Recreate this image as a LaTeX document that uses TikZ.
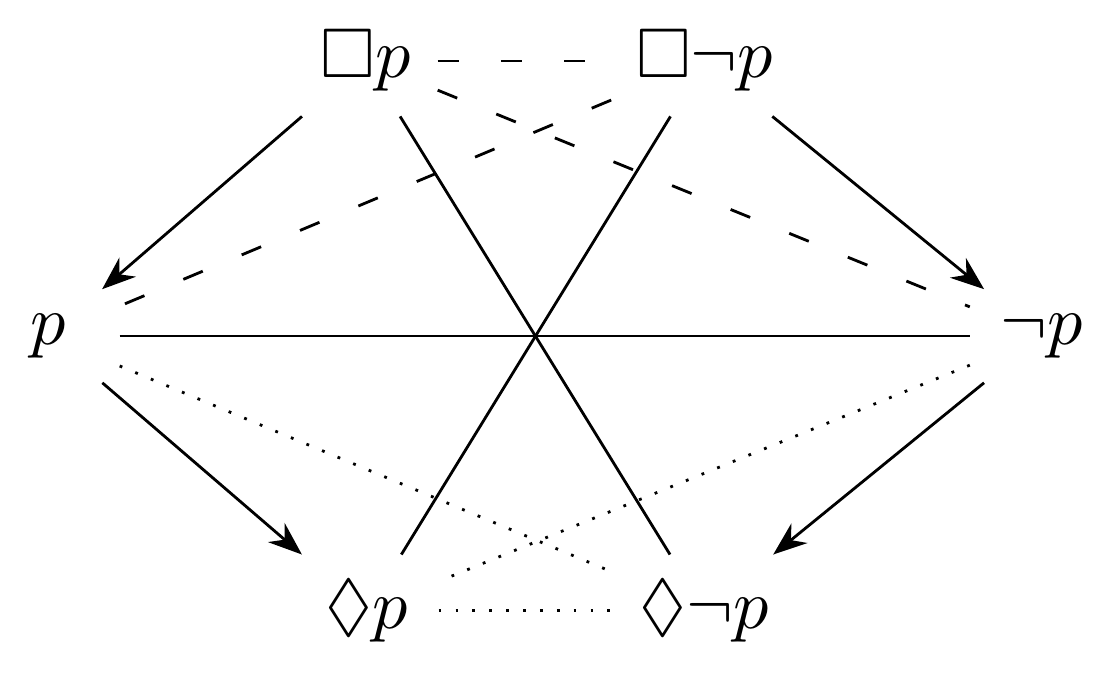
\documentclass[tikz,border=0pt]{standalone}
\usepackage{amsmath}
\usepackage{amssymb}
\usepackage{tikz}
\usetikzlibrary{arrows.meta}

\begin{document}
\begin{tikzpicture}[every node/.style={minimum width=2em}]
    \useasboundingbox (-2.68,-1.69) rectangle (2.855,1.68);

    % corners of the hexagon
    \node (Bp)  at (-0.85,1.375)   {$\Box p$};
    \node (Bnp) at (0.8425,1.375)  {$\Box\neg p$};
    \node (p)   at (-2.44,0)       {$p$};
    \node (np)  at (2.5275,0)      {$\neg p$};
    \node (Dp)  at (-0.845,-1.3725) {$\Diamond p$};
    \node (Dnp) at (0.8425,-1.3725) {$\Diamond\neg p$};

    % contraries
    \draw[loosely dashed] (Bp) -- (Bnp);
    \draw[loosely dashed] (Bp) -- (np);
    \draw[loosely dashed] (Bnp) -- (p);

    % subalterns
    \draw[-Stealth] (Bp) -- (p);
    \draw[-Stealth] (Bnp) -- (np);
    \draw[-Stealth] (p) -- (Dp);
    \draw[-Stealth] (np) -- (Dnp);

    % contradictories
    \draw (Bp) -- (Dnp);
    \draw (Bnp) -- (Dp);
    \draw (p) -- (np);

    % subcontraries
    \draw[dotted] (p) -- (Dnp);
    \draw[dotted] (np) -- (Dp);
    \draw[dotted] (Dp) -- (Dnp);
\end{tikzpicture}
\end{document}
